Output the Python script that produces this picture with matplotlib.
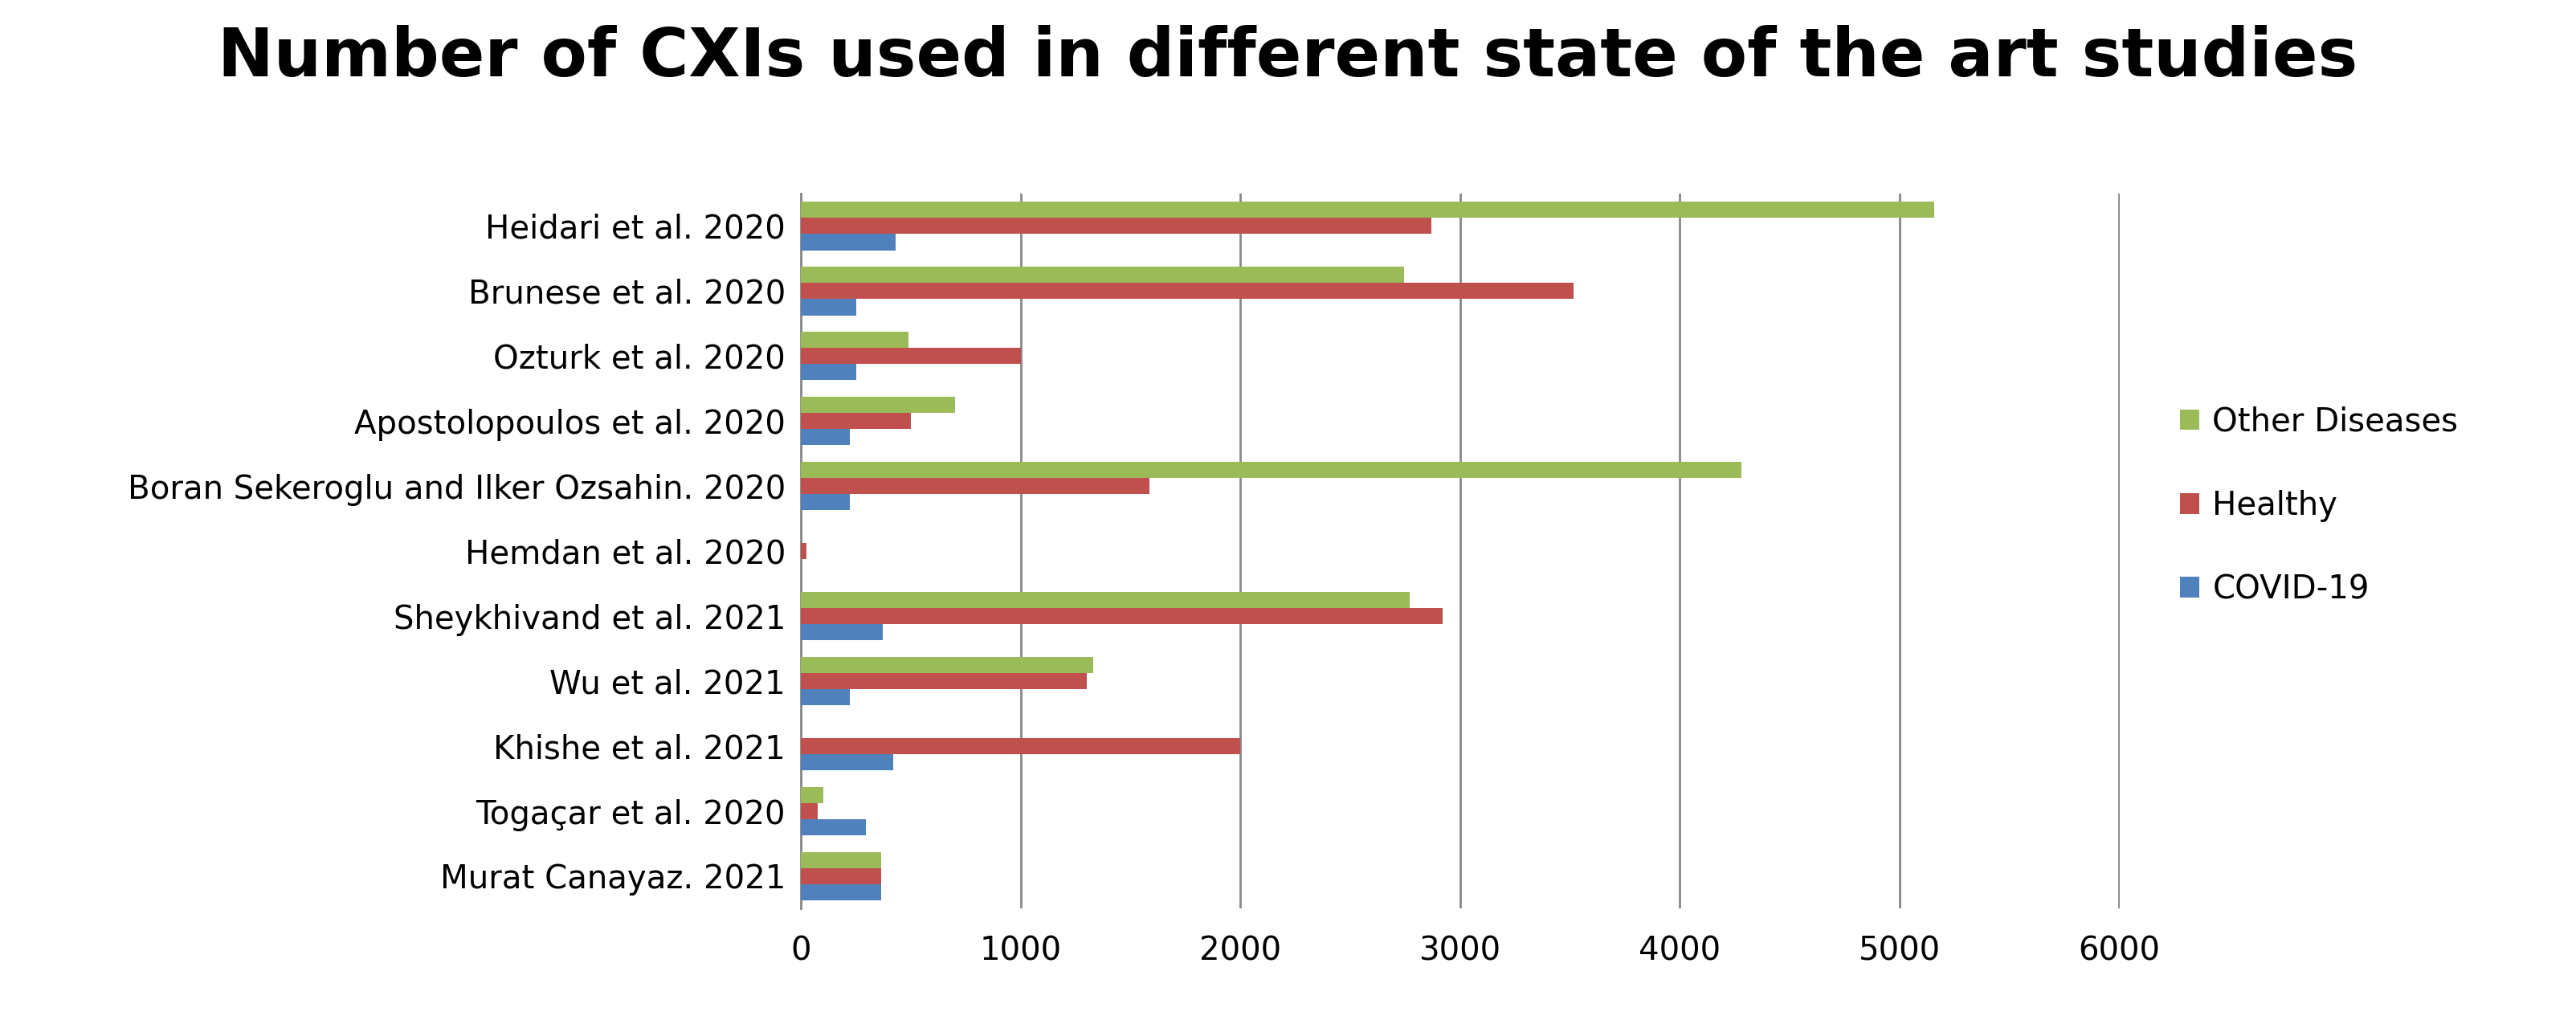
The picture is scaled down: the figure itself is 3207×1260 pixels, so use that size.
import numpy as np
import matplotlib.pyplot as plt

studies = [
    "Heidari et al. 2020",
    "Brunese et al. 2020",
    "Ozturk et al. 2020",
    "Apostolopoulos et al. 2020",
    "Boran Sekeroglu and Ilker Ozsahin. 2020",
    "Hemdan et al. 2020",
    "Sheykhivand et al. 2021",
    "Wu et al. 2021",
    "Khishe et al. 2021",
    "Togaçar et al. 2020",
    "Murat Canayaz. 2021",
]
other = [5160, 2745, 490, 700, 4280, 0, 2770, 1330, 0, 100, 364]
healthy = [2870, 3515, 1000, 500, 1585, 25, 2920, 1300, 2000, 75, 364]
covid = [430, 250, 250, 220, 220, 0, 370, 220, 420, 295, 364]

plt.rcParams["font.family"] = ["DejaVu Sans"]

fig = plt.figure(figsize=(32.07, 12.6), dpi=100)
ax = fig.add_axes([0.311, 0.102, 0.512, 0.707])

y = np.arange(len(studies))[::-1]
h = 0.25
ax.barh(y + h, other, height=h, color="#9BBB59", label="Other Diseases", zorder=3)
ax.barh(y, healthy, height=h, color="#C0504D", label="Healthy", zorder=3)
ax.barh(y - h, covid, height=h, color="#4F81BD", label="COVID-19", zorder=3)

ax.set_yticks(y)
ax.set_yticklabels(studies, fontsize=29)
ax.set_ylim(-0.5, len(studies) - 0.5)
ax.set_xlim(0, 6005)
ax.set_xticks(range(0, 6001, 1000))
ax.tick_params(axis="x", labelsize=29, length=0, pad=24)
ax.tick_params(axis="y", length=0, pad=14)
ax.grid(axis="x", color="#888888", linewidth=2, zorder=0)
for s in ["top", "right", "bottom"]:
    ax.spines[s].set_visible(False)
ax.spines["left"].set_color("#888888")
ax.spines["left"].set_linewidth(2)

fig.suptitle("Number of CXIs used in different state of the art studies",
             fontsize=60, fontweight="bold", y=0.975)

handles, labels = ax.get_legend_handles_labels()
fig.legend(handles, labels, loc="center left", bbox_to_anchor=(0.835, 0.5),
           frameon=False, fontsize=29, handlelength=0.6, handleheight=0.6,
           handletextpad=0.4, labelspacing=1.6)

fig.savefig("out.png", dpi=100)
